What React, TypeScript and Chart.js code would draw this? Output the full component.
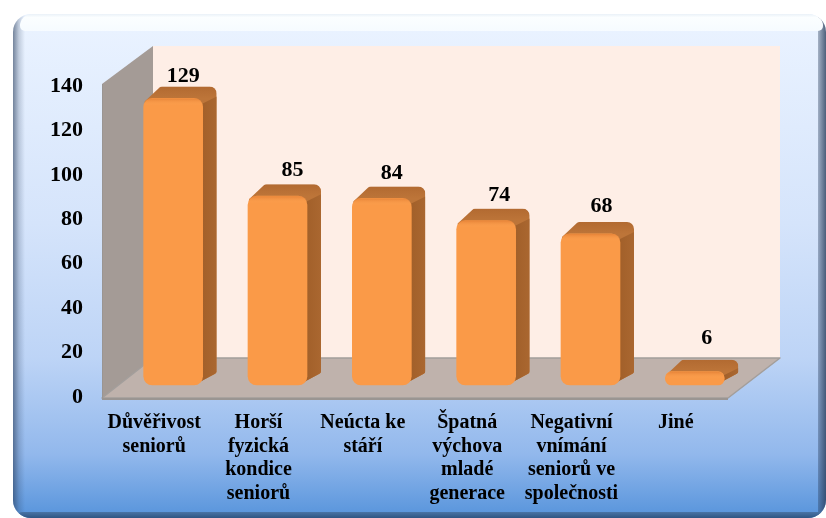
import React, { useEffect, useRef } from "react";
import { Chart, registerables } from "chart.js";

Chart.register(...registerables);

const categories = [
  ["Důvěřivost", "seniorů"],
  ["Horší", "fyzická", "kondice", "seniorů"],
  ["Neúcta ke", "stáří"],
  ["Špatná", "výchova", "mladé", "generace"],
  ["Negativní", "vnímání", "seniorů ve", "společnosti"],
  ["Jiné"],
];
const values = [129, 85, 84, 74, 68, 6];
const yTicks = [0, 20, 40, 60, 80, 100, 120, 140];
const labelNudgeX = [10, 15, 10, 13, 11, 12];
const labelNudgeY = [-34, -38, -37, -37, -40, -45];

const FONT = "'Liberation Serif'";
const DEPTH_X = 51;
const DEPTH_Y = 40;
const BAR_DX = 19;
const BAR_DY = -12;
const SIDE_X = 14;
const SIDE_Y = -12;

function rr(ctx: CanvasRenderingContext2D, x: number, y: number, w: number, h: number, r: any) {
  ctx.beginPath();
  ctx.roundRect(x, y, w, h, r);
}

function poly(ctx: CanvasRenderingContext2D, pts: number[][], fill: string | CanvasGradient, stroke?: string, lw = 1) {
  ctx.beginPath();
  pts.forEach((p, i) => (i ? ctx.lineTo(p[0], p[1]) : ctx.moveTo(p[0], p[1])));
  ctx.closePath();
  ctx.fillStyle = fill;
  ctx.fill();
  if (stroke) {
    ctx.strokeStyle = stroke;
    ctx.lineWidth = lw;
    ctx.lineJoin = "round";
    ctx.stroke();
  }
}

const panelPlugin = {
  id: "panel",
  beforeDraw(chart: any) {
    const ctx: CanvasRenderingContext2D = chart.ctx;
    const X0 = 13, Y0 = 14, X1 = 826, Y1 = 518;
    const IX0 = 25, IY0 = 31, IX1 = 818, IY1 = 512;
    ctx.save();
    rr(ctx, X0, Y0, X1 - X0, Y1 - Y0, 18);
    ctx.clip();
    const ig = ctx.createLinearGradient(0, IY0, 0, IY1);
    ig.addColorStop(0, "#e9f2ff");
    ig.addColorStop(0.4, "#d5e4fb");
    ig.addColorStop(0.68, "#bdd4f6");
    ig.addColorStop(0.88, "#92b8ec");
    ig.addColorStop(1, "#5c97dd");
    ctx.fillStyle = ig;
    ctx.fillRect(X0, Y0, X1 - X0, Y1 - Y0);
    const lg = ctx.createLinearGradient(X0, 0, IX0, 0);
    lg.addColorStop(0, "rgba(40,60,90,0.6)");
    lg.addColorStop(0.5, "rgba(40,60,90,0.2)");
    lg.addColorStop(1, "rgba(40,60,90,0)");
    ctx.fillStyle = lg;
    ctx.fillRect(X0, Y0, IX0 - X0, Y1 - Y0);
    const rg = ctx.createLinearGradient(IX1, 0, X1, 0);
    rg.addColorStop(0, "rgba(40,60,90,0.35)");
    rg.addColorStop(1, "rgba(40,60,90,0.8)");
    ctx.fillStyle = rg;
    ctx.fillRect(IX1, Y0, X1 - IX1, Y1 - Y0);
    const bg = ctx.createLinearGradient(0, IY1, 0, Y1);
    bg.addColorStop(0, "#4a74a6");
    bg.addColorStop(1, "#2f5583");
    rr(ctx, X0 + 3, IY1, X1 - X0 - 3, Y1 - IY1, [6, 6, 0, 0]);
    ctx.fillStyle = bg;
    ctx.fill();
    const tg = ctx.createLinearGradient(0, Y0, 0, IY0);
    tg.addColorStop(0, "#eaf1f8");
    tg.addColorStop(0.2, "#fbfeff");
    tg.addColorStop(1, "#f6fbff");
    rr(ctx, IX0 - 5, Y0, IX1 - IX0 + 10, IY0 - Y0, [14, 14, 6, 6]);
    ctx.fillStyle = tg;
    ctx.fill();
    ctx.restore();
  },
  beforeDatasetsDraw(chart: any) {
    const ctx: CanvasRenderingContext2D = chart.ctx;
    const a = chart.chartArea;
    const L = a.left, R = a.right, T = a.top - 2, B = a.bottom + 1;
    ctx.save();
    poly(ctx, [[L + DEPTH_X, T - 38], [R + DEPTH_X + 1, T - 38], [R + DEPTH_X + 1, B - DEPTH_Y], [L + DEPTH_X, B - DEPTH_Y]], "#feeee6");
    poly(ctx, [[L, T], [L + DEPTH_X, T - 38], [L + DEPTH_X, B - DEPTH_Y], [L, B]], "#a49b96");
    poly(ctx, [[L, B], [L + DEPTH_X, B - DEPTH_Y], [R + DEPTH_X + 1, B - DEPTH_Y], [R, B]], "#bfb2ac", "#a39e9b", 1.5);
    ctx.fillStyle = "#9a9592";
    ctx.fillRect(L, B, R - L, 2);
    ctx.fillRect(L, T, 1, B - T);

    const meta = chart.getDatasetMeta(0);
    meta.data.forEach((el: any) => {
      const l = el.x - el.width / 2 + BAR_DX;
      const r = el.x + el.width / 2 + BAR_DX;
      const t = el.y + BAR_DY;
      const b = el.base + BAR_DY;
      const rad = Math.min(7, (b - t) / 2);
      ctx.save();
      ctx.beginPath();
      ctx.moveTo(l + 1, t + 3);
      ctx.arcTo(l + SIDE_X + 3, t + SIDE_Y, r + SIDE_X, t + SIDE_Y, 4);
      ctx.arcTo(r + SIDE_X, t + SIDE_Y, r + SIDE_X, b + SIDE_Y, rad);
      ctx.arcTo(r + SIDE_X, b + SIDE_Y, r - 3, b - 3, 3);
      ctx.lineTo(r - 3, b - 3);
      ctx.lineTo(l + 10, b - 6);
      ctx.closePath();
      ctx.clip();
      const tf = ctx.createLinearGradient(0, t + SIDE_Y, 0, t);
      tf.addColorStop(0, "#b26a31");
      tf.addColorStop(1, "#bd7539");
      ctx.fillStyle = tf;
      ctx.fillRect(l, t + SIDE_Y, r + SIDE_X - l, b - t - SIDE_Y);
      const sf = ctx.createLinearGradient(r, 0, r + SIDE_X, 0);
      sf.addColorStop(0, "#a2602a");
      sf.addColorStop(1, "#aa6730");
      const h = Math.min(6, (b - t) / 3);
      poly(ctx, [[r - 2, t + h], [r + SIDE_X, t + h - 8], [r + SIDE_X, b], [r - 2, b]], sf);
      ctx.restore();
    });
    ctx.restore();
    ctx.save();
    ctx.translate(BAR_DX, BAR_DY);
  },
  afterDatasetsDraw(chart: any) {
    const ctx: CanvasRenderingContext2D = chart.ctx;
    const meta = chart.getDatasetMeta(0);
    meta.data.forEach((el: any) => {
      const l = el.x - el.width / 2;
      const r = el.x + el.width / 2;
      const h = Math.min(7, el.base - el.y);
      const g = ctx.createLinearGradient(0, el.y, 0, el.y + h);
      g.addColorStop(0, "rgba(224,124,50,0.75)");
      g.addColorStop(1, "rgba(255,170,90,0)");
      rr(ctx, l, el.y, r - l, h, [h, h, 0, 0]);
      ctx.fillStyle = g;
      ctx.fill();
    });
    ctx.restore();

    ctx.save();
    ctx.fillStyle = "#000";
    ctx.font = `bold 22px ${FONT}`;
    ctx.textAlign = "center";
    ctx.textBaseline = "middle";
    meta.data.forEach((el: any, i: number) => {
      ctx.fillText(String(values[i]), el.x + BAR_DX + labelNudgeX[i], el.y + labelNudgeY[i]);
    });
    ctx.restore();
  },
};

export default function App() {
  const ref = useRef<HTMLCanvasElement>(null);
  useEffect(() => {
    const chart = new Chart(ref.current!, {
      type: "bar",
      data: {
        labels: categories as any,
        datasets: [
          {
            data: values,
            barThickness: 59,
            borderRadius: 9,
            borderSkipped: false,
            clip: false as any,
            backgroundColor: (c: any) => {
              const el = c.chart.getDatasetMeta(0).data[c.dataIndex];
              if (!el || !isFinite(el.x)) return "#fa9a48";
              const l = el.x - 29.5;
              const g = c.chart.ctx.createLinearGradient(l, 0, l + 59, 0);
              g.addColorStop(0, "#e98a3b");
              g.addColorStop(0.05, "#f99945");
              g.addColorStop(0.7, "#fa9a47");
              g.addColorStop(0.84, "#ffa551");
              g.addColorStop(0.95, "#f0913f");
              g.addColorStop(1, "#dd8236");
              return g;
            },
          },
        ],
      },
      options: {
        responsive: false,
        animation: false,
        devicePixelRatio: 1,
        layout: { padding: { left: 0, top: 86, right: 98, bottom: 0 } },
        plugins: { legend: { display: false }, tooltip: { enabled: false }, title: { display: false } },
        scales: {
          x: {
            grid: { display: false, drawTicks: false },
            border: { display: false },
            ticks: {
              autoSkip: false,
              maxRotation: 0,
              minRotation: 0,
              padding: 14,
              color: "#000",
              font: { family: FONT, weight: "bold", size: 20, lineHeight: 1.18 },
            },
            afterFit(s: any) {
              s.height = 121;
              s.paddingLeft = 0;
              s.paddingRight = 0;
            },
          },
          y: {
            min: yTicks[0],
            max: yTicks[yTicks.length - 1],
            afterBuildTicks(s: any) {
              s.ticks = yTicks.map((v) => ({ value: v }));
            },
            grid: { display: false, drawTicks: false },
            border: { display: false },
            ticks: {
              padding: 19,
              color: "#000",
              font: { family: FONT, weight: "bold", size: 22 },
            },
            afterFit(s: any) {
              s.width = 102;
              s.paddingTop = 0;
              s.paddingBottom = 0;
            },
          },
        },
      },
      plugins: [panelPlugin],
    } as any);
    return () => chart.destroy();
  }, []);
  return (
    <div style={{ position: "absolute", left: 0, top: 0, width: 826, height: 518 }}>
      <canvas ref={ref} width={826} height={518} style={{ display: "block", filter: "blur(0.4px)" }} />
    </div>
  );
}
